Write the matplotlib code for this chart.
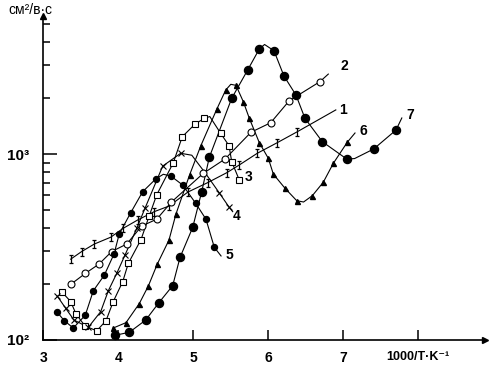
import matplotlib
matplotlib.use('Agg')
import matplotlib.pyplot as plt
from matplotlib.path import Path
import numpy as np

plt.rcParams['font.family'] = ['Liberation Sans Narrow', 'Liberation Sans', 'DejaVu Sans']

# Curve 1 (I markers)
x1 = [3.365, 3.512, 3.68, 3.899, 4.067, 4.259, 4.48, 4.676, 4.93, 5.19, 5.445, 5.613, 5.853, 6.12, 6.387]
y1 = [272, 299, 328, 357, 399, 442, 490, 525, 625, 701, 793, 873, 1009, 1151, 1318]
x1_ext = [6.90]
y1_ext = [1726]

# Curve 2 (open circles)
x2 = [3.365, 3.56, 3.743, 3.912, 4.112, 4.312, 4.512, 4.709, 5.133, 5.423, 5.769, 6.032, 6.28, 6.689]
y2 = [199, 228, 256, 299, 328, 410, 446, 552, 787, 940, 1309, 1473, 1935, 2450]
x2_ext = [6.80]
y2_ext = [2690]

# Curve 3 (open squares)
x3 = [3.249, 3.365, 3.436, 3.556, 3.712, 3.836, 3.933, 4.059, 4.133, 4.303, 4.413, 4.512,
      4.733, 4.853, 5.023, 5.147, 5.365, 5.476, 5.512, 5.613]
y3 = [181, 161, 138, 119, 112, 127, 161, 206, 258, 347, 466, 603,
      897, 1239, 1448, 1555, 1291, 1109, 910, 725]
x3_ext = [5.22]
y3_ext = [1590]

# Curve 4 (crosses)
x4 = [3.187, 3.299, 3.409, 3.60, 3.765, 3.867, 3.979, 4.089, 4.245, 4.356, 4.592, 4.832, 5.345, 5.48]
y4 = [172, 148, 128, 117, 142, 184, 228, 286, 398, 511, 861, 1009, 619, 516]
x4_ext = [4.98, 5.16, 5.525]
y4_ext = [985, 790, 490]

# Curve 5 (small filled circles)
x5 = [3.179, 3.28, 3.40, 3.56, 3.667, 3.813, 3.943, 4.013, 4.165, 4.325, 4.499, 4.699, 4.859, 5.032, 5.169, 5.28]
y5 = [142, 127, 116, 136, 184, 223, 290, 372, 483, 627, 734, 762, 681, 543, 446, 315]
x5_ext = [4.6, 5.37]
y5_ext = [778, 283]

# Curve 6 (triangles)
x6 = [3.933, 4.103, 4.28, 4.40, 4.52, 4.676, 4.769, 4.95, 5.099, 5.312, 5.432, 5.569, 5.667,
      5.747, 5.88, 6.0, 6.067, 6.223, 6.379, 6.587, 6.733, 6.867, 7.053]
y6 = [116, 124, 157, 195, 256, 345, 476, 771, 1105, 1738, 2208, 2340, 1910,
      1555, 1151, 948, 780, 654, 561, 597, 705, 891, 1157]
x6_ext = [5.5, 6.47, 7.156]
y6_ext = [2370, 552, 1297]

# Curve 7 (large filled circles)
x7 = [3.956, 4.147, 4.365, 4.543, 4.725, 4.823, 4.992, 5.112, 5.213, 5.512, 5.725, 5.88,
      6.076, 6.209, 6.369, 6.489, 6.72, 7.045, 7.405, 7.703]
y7 = [106, 110, 128, 159, 196, 278, 403, 627, 959, 1993, 2830, 3670,
      3590, 2625, 2075, 1555, 1165, 940, 1064, 1346]
x7_ext = [5.95, 7.15, 7.78]
y7_ext = [3880, 945, 1562]

# Curve labels
lab_text = ['1', '2', '3', '4', '5', '6', '7']
lab_x = [6.992, 7.009, 5.733, 5.579, 5.48, 7.267, 7.889]
lab_y = [1725, 2972, 755, 464, 286, 1330, 1622]

# "I" shaped marker
i_marker = Path([(-0.3, 0.5), (0.3, 0.5), (0, 0.5), (0, -0.5), (-0.3, -0.5), (0.3, -0.5)],
                [Path.MOVETO, Path.LINETO, Path.MOVETO, Path.LINETO, Path.MOVETO, Path.LINETO])

fig = plt.figure(figsize=(4.96, 3.65), dpi=100)
fig.set_facecolor('white')
ax = fig.add_axes([0.0873, 0.0685, 0.8905, 0.8877])


def trace(xm, ym, xe, ye):
    xs = np.array(xm + xe)
    ys = np.array(ym + ye)
    order = np.argsort(xs)
    ax.plot(xs[order], ys[order], color='black', linewidth=0.8)


trace(x1, y1, x1_ext, y1_ext)
trace(x2, y2, x2_ext, y2_ext)
trace(x3, y3, x3_ext, y3_ext)
trace(x4, y4, x4_ext, y4_ext)
trace(x5, y5, x5_ext, y5_ext)
trace(x6, y6, x6_ext, y6_ext)
trace(x7, y7, x7_ext, y7_ext)

ax.plot(x1, y1, linestyle='none', marker=i_marker, markersize=5.5, mfc='none', mec='black', mew=0.9)
ax.plot(x2, y2, linestyle='none', marker='o', markersize=5, mfc='white', mec='black', mew=0.8)
ax.plot(x3, y3, linestyle='none', marker='s', markersize=4.5, mfc='white', mec='black', mew=0.8)
ax.plot(x4, y4, linestyle='none', marker='x', markersize=5, mec='black', mew=0.8)
ax.plot(x5, y5, linestyle='none', marker='o', markersize=4.3, color='black')
ax.plot(x6, y6, linestyle='none', marker='^', markersize=3.6, color='black')
ax.plot(x7, y7, linestyle='none', marker='o', markersize=5.8, color='black')

for t, lx, ly in zip(lab_text, lab_x, lab_y):
    ax.text(lx, ly, t, fontsize=10, fontweight='bold', ha='center', va='center')

# Axes: log y, arrows at the ends
ax.set_yscale('log')
ax.set_xlim(3, 8.889)
ax.set_ylim(100, 5522)
ax.spines['top'].set_visible(False)
ax.spines['right'].set_visible(False)
ax.spines['left'].set_linewidth(1.2)
ax.spines['bottom'].set_linewidth(1.2)
ax.plot([3], [5522], marker='^', markersize=5, color='black', clip_on=False)
ax.plot([8.889], [100], marker='>', markersize=5, color='black', clip_on=False)

ax.set_xticks([3, 4, 5, 6, 7, 8])
ax.set_xticklabels(['3', '4', '5', '6', '7', '1000/T\u00b7K\u207b\u00b9'], fontsize=10, fontweight='bold')
ax.get_xticklabels()[-1].set_fontsize(9)
ax.tick_params(axis='x', direction='in', length=7.5, width=1.1, pad=8)
ax.set_yticks([100, 1000])
ax.set_yticklabels(['10\u00b2', '10\u00b3'], fontsize=11, fontweight='bold')
ax.set_yticks([200, 300, 400, 500, 600, 700, 800, 900, 2000, 3000, 4000, 5000], minor=True)
ax.set_yticklabels([], minor=True)
ax.tick_params(axis='y', which='major', direction='in', length=10, width=1.1, pad=10)
ax.tick_params(axis='y', which='minor', direction='in', length=4.8, width=1.1)

fig.text(8 / 496, 1 - 10 / 365, '\u0441\u043c\u00b2/\u0432\u00b7\u0441', fontsize=10, va='center', ha='left')

plt.savefig('out.png', dpi=100)
